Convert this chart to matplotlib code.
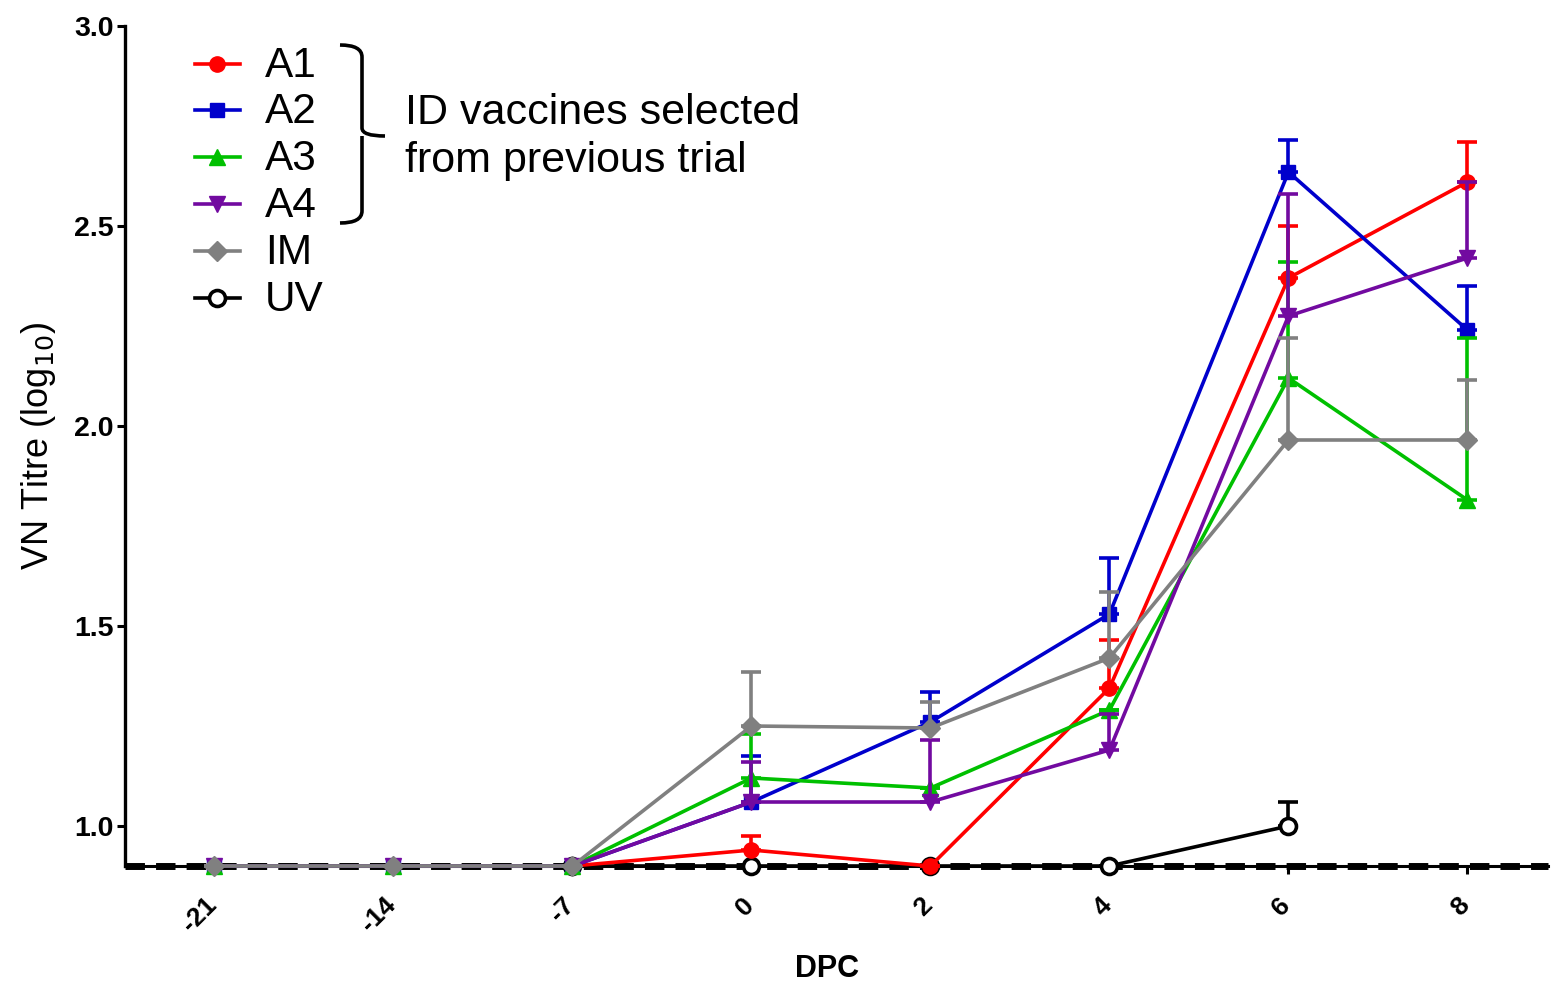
import matplotlib
matplotlib.use("Agg")
import matplotlib.pyplot as plt
import numpy as np
from matplotlib.path import Path
from matplotlib.patches import PathPatch
from matplotlib.transforms import ScaledTranslation

plt.rcParams['font.family'] = ['Liberation Sans', 'DejaVu Sans']

# days post challenge, plotted as evenly spaced categories
dpc = ['-21', '-14', '-7', '0', '2', '4', '6', '8']

# mean VN titre (log10) and upper error bar end for each group
a1_mean = [0.9, 0.9, 0.9, 0.94, 0.9, 1.345, 2.37, 2.61]
a1_top = [0.9, 0.9, 0.9, 0.975, 0.9, 1.465, 2.50, 2.71]
a2_mean = [0.9, 0.9, 0.9, 1.06, 1.26, 1.53, 2.635, 2.24]
a2_top = [0.9, 0.9, 0.9, 1.175, 1.335, 1.67, 2.715, 2.35]
a3_mean = [0.9, 0.9, 0.9, 1.12, 1.095, 1.29, 2.12, 1.815]
a3_top = [0.9, 0.9, 0.9, 1.23, 1.095, 1.29, 2.41, 2.22]
a4_mean = [0.9, 0.9, 0.9, 1.06, 1.06, 1.19, 2.275, 2.42]
a4_top = [0.9, 0.9, 0.9, 1.16, 1.215, 1.28, 2.58, 2.61]
im_mean = [0.9, 0.9, 0.9, 1.25, 1.245, 1.42, 1.965, 1.965]
im_top = [0.9, 0.9, 0.9, 1.385, 1.31, 1.585, 2.22, 2.115]
uv_mean = [np.nan, np.nan, 0.9, 0.9, 0.9, 0.9, 1.0, np.nan]
uv_top = [np.nan, np.nan, 0.9, 0.9, 0.9, 0.9, 1.06, np.nan]

detection_limit = 0.9

groups = [
    ('A1', a1_mean, a1_top, '#ff0000', 'o', 11),
    ('A2', a2_mean, a2_top, '#0000cc', 's', 10.5),
    ('A3', a3_mean, a3_top, '#00c000', '^', 12),
    ('A4', a4_mean, a4_top, '#720aa0', 'v', 12),
    ('IM', im_mean, im_top, '#808080', 'D', 10.5),
]

W, H = 1551, 982
LW = 2.6
fig = plt.figure(figsize=(W / 100, H / 100), dpi=100)
ax = fig.add_axes([125 / W, 1 - 866 / H, (1548 - 125) / W, (866 - 26) / H])

x = np.arange(len(dpc))

# UV first so the vaccine groups sit on top of it at the baseline
uv_err = np.array(uv_top) - np.array(uv_mean)
ax.errorbar(x, uv_mean, yerr=[np.zeros(len(x)), uv_err], color='black',
            marker='o', markersize=11.5, markerfacecolor='white',
            markeredgewidth=2.6, linewidth=LW, capsize=7, capthick=LW,
            elinewidth=LW, clip_on=False, zorder=3)

for i, (name, mean, top, col, mk, ms) in enumerate(groups):
    err = np.array(top) - np.array(mean)
    ax.errorbar(x, mean, yerr=[np.zeros(len(x)), err], color=col,
                marker=mk, markersize=ms, linewidth=LW, capsize=7,
                capthick=LW, elinewidth=LW, clip_on=False, zorder=4 + i)

ax.axhline(detection_limit, color='black', linewidth=5,
           linestyle=(0, (2.8, 1.6)), zorder=2.7, clip_on=False)

ax.spines['top'].set_visible(False)
ax.spines['right'].set_visible(False)
ax.spines['left'].set_linewidth(2.4)
ax.spines['bottom'].set_linewidth(2.2)
ax.tick_params(axis='both', direction='out', length=6, width=2.2, pad=2)

ax.set_xlim(-0.5, 7.45)
ax.set_ylim(0.9, 3.0)
ax.set_yticks([1.0, 1.5, 2.0, 2.5, 3.0])
ax.set_yticklabels(['1.0', '1.5', '2.0', '2.5', '3.0'])
ax.set_xticks(x)
ax.set_xticklabels(dpc, rotation=45, ha='right', va='top')
shift = ScaledTranslation(7 / 100, -16 / 100, fig.dpi_scale_trans)
for lab in ax.get_xticklabels():
    lab.set_transform(lab.get_transform() + shift)
    lab.set_fontsize(19)
for lab in ax.get_yticklabels():
    lab.set_fontsize(20.5)
for lab in ax.get_xticklabels() + ax.get_yticklabels():
    lab.set_fontweight('bold')

ax.set_xlabel('DPC', fontsize=22, fontweight='bold')
ax.xaxis.set_label_coords((827 - 125) / 1423, (866 - 954) / 840)
ax.set_ylabel('VN Titre (log$_{10}$)', fontsize=26, labelpad=12)

# hand-placed legend (pixel coordinates of the reference)
def fpt(px, py):
    return px / W, 1 - py / H

labels = [g[0] for g in groups] + ['UV']
styles = [(g[3], g[4], g[5]) for g in groups] + [('black', 'o', 11.5)]
rows = [64, 110, 157, 204, 251, 298]
for lab, (col, mk, ms), ry in zip(labels, styles, rows):
    x0, y0 = fpt(195, ry)
    x1, _ = fpt(240, ry)
    xm, _ = fpt(217, ry)
    fig.add_artist(plt.Line2D([x0, x1], [y0, y0], color=col, linewidth=LW))
    if lab == 'UV':
        fig.add_artist(plt.Line2D([xm], [y0], marker=mk, markersize=ms,
                                  markerfacecolor='white', markeredgecolor=col,
                                  markeredgewidth=2.6, linestyle='none'))
    else:
        fig.add_artist(plt.Line2D([xm], [y0], marker=mk, markersize=ms,
                                  color=col, linestyle='none'))
    tx, ty = fpt(265, ry + 2)
    fig.text(tx, ty, lab, fontsize=30.5, ha='left', va='center')

# curly bracket grouping A1-A4
bx, btop, bbot, bmid, btip, bhook = 362, 45, 223, 136, 385, 340
pts = [fpt(bhook, btop), fpt(bx, btop), fpt(bx, btop + 12),
       fpt(bx, bmid - 8), fpt(bx, bmid), fpt(btip, bmid),
       fpt(bx, bmid), fpt(bx, bmid + 8),
       fpt(bx, bbot - 12), fpt(bx, bbot), fpt(bhook, bbot)]
codes = [Path.MOVETO, Path.CURVE3, Path.CURVE3, Path.LINETO, Path.CURVE3,
         Path.CURVE3, Path.MOVETO, Path.LINETO, Path.LINETO, Path.CURVE3,
         Path.CURVE3]
fig.add_artist(PathPatch(Path(pts, codes), facecolor='none',
                         edgecolor='black', linewidth=2.6,
                         transform=fig.transFigure))
tx, ty = fpt(405, 137)
fig.text(tx, ty, 'ID vaccines selected\nfrom previous trial', fontsize=31,
         ha='left', va='center', linespacing=1.25)

fig.savefig('out.png', dpi=100)
